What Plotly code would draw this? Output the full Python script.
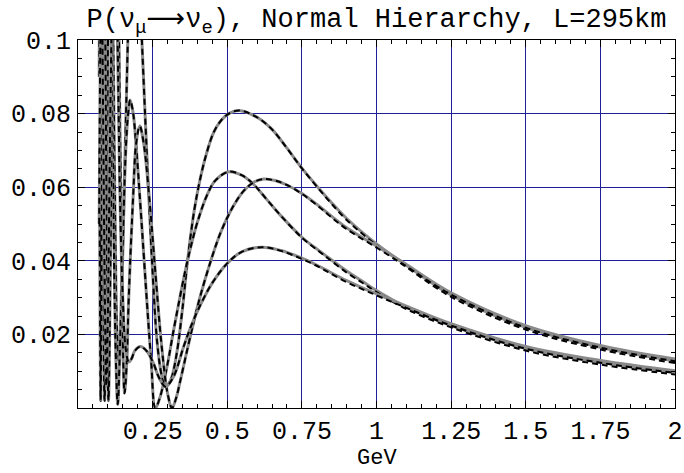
import plotly.graph_objects as go

# ---- data ----
# delta = -pi/2 (largest first maximum)
A_E = [0.071, 0.076, 0.080, 0.085, 0.0895, 0.094, 0.100, 0.108, 0.115, 0.123, 0.131, 0.138, 0.145,
       0.155, 0.167, 0.175, 0.187, 0.200, 0.215, 0.230, 0.248, 0.265, 0.280, 0.293, 0.310, 0.330,
       0.350, 0.367, 0.390, 0.410, 0.430, 0.454, 0.480, 0.510, 0.544, 0.600, 0.650, 0.700, 0.750,
       0.810, 0.845, 0.900, 1.000, 1.070, 1.100, 1.250, 1.500, 1.750, 2.000]
A_P = [0.120, 0.160, 0.130, 0.050, 0.020, 0.040, 0.100, 0.150, 0.120, 0.060, 0.020, 0.012, 0.025,
       0.060, 0.100, 0.125, 0.135, 0.125, 0.098, 0.070, 0.040, 0.018, 0.009, 0.0058, 0.0075, 0.0145,
       0.027, 0.040, 0.054, 0.0625, 0.069, 0.0748, 0.0782, 0.0802, 0.0808, 0.0790, 0.0757, 0.0706, 0.0652,
       0.0594, 0.0562, 0.0515, 0.0446, 0.0405, 0.0388, 0.0307, 0.0219, 0.0165, 0.0128]
A_P_approx = [0.120, 0.160, 0.130, 0.050, 0.020, 0.040, 0.100, 0.150, 0.120, 0.060, 0.020, 0.012, 0.025,
              0.060, 0.100, 0.125, 0.135, 0.125, 0.098, 0.070, 0.040, 0.018, 0.009, 0.0058, 0.0075, 0.0145,
              0.027, 0.040, 0.054, 0.0625, 0.069, 0.0748, 0.0782, 0.0802, 0.0808, 0.0790, 0.0757, 0.0706, 0.0651,
              0.0592, 0.0559, 0.0511, 0.0442, 0.0400, 0.0383, 0.0302, 0.0213, 0.0159, 0.0122]

# delta = pi (first maximum at lower energy)
B_E = [0.071, 0.076, 0.082, 0.089, 0.097, 0.106, 0.115, 0.125, 0.133, 0.140, 0.150, 0.160, 0.168,
       0.175, 0.185, 0.195, 0.210, 0.232, 0.245, 0.259, 0.275, 0.300, 0.320, 0.340, 0.360, 0.380,
       0.400, 0.432, 0.460, 0.505, 0.550, 0.588, 0.630, 0.678, 0.750, 0.810, 0.845, 0.900, 0.955,
       1.000, 1.100, 1.250, 1.500, 1.750, 2.000]
B_P = [0.090, 0.150, 0.060, 0.002, 0.070, 0.130, 0.080, 0.020, 0.001, 0.015, 0.045, 0.070, 0.080,
       0.0837, 0.080, 0.071, 0.054, 0.0275, 0.013, 0.000, 0.003, 0.012, 0.021, 0.0295, 0.0375, 0.0445,
       0.0505, 0.0578, 0.0618, 0.0642, 0.0632, 0.0608, 0.0569, 0.0524, 0.0464, 0.0426, 0.0405, 0.0372, 0.0343,
       0.0319, 0.0274, 0.0224, 0.0162, 0.0124, 0.0097]
B_P_approx = [0.090, 0.150, 0.060, 0.002, 0.070, 0.130, 0.080, 0.020, 0.001, 0.015, 0.045, 0.070, 0.080,
              0.0837, 0.080, 0.071, 0.054, 0.0275, 0.013, 0.000, 0.003, 0.012, 0.021, 0.0295, 0.0375, 0.0445,
              0.0505, 0.0578, 0.0618, 0.0642, 0.0632, 0.0608, 0.0569, 0.0524, 0.0463, 0.0424, 0.0402, 0.0368, 0.0339,
              0.0315, 0.0269, 0.0219, 0.0156, 0.0118, 0.0091]

# delta = 0 (first maximum at higher energy)
C_E = [0.072, 0.076, 0.080, 0.087, 0.095, 0.102, 0.110, 0.120, 0.130, 0.140, 0.148, 0.156, 0.163,
       0.170, 0.185, 0.195, 0.207, 0.220, 0.240, 0.260, 0.280, 0.300, 0.315, 0.328, 0.343, 0.365,
       0.388, 0.410, 0.443, 0.477, 0.520, 0.555, 0.590, 0.622, 0.660, 0.700, 0.750, 0.810, 0.845,
       0.900, 1.000, 1.070, 1.100, 1.250, 1.500, 1.750, 2.000]
C_P = [0.070, 0.002, 0.080, 0.140, 0.060, 0.002, 0.050, 0.120, 0.130, 0.080, 0.030, 0.004, 0.012,
       0.030, 0.058, 0.072, 0.0766, 0.072, 0.056, 0.036, 0.017, 0.004, 0.000, 0.0025, 0.0075, 0.0155,
       0.0235, 0.0305, 0.0395, 0.0475, 0.0548, 0.0590, 0.0614, 0.0622, 0.0618, 0.0606, 0.0583, 0.0547, 0.0524,
       0.0490, 0.0440, 0.0405, 0.0390, 0.0313, 0.0224, 0.0170, 0.0133]
C_P_approx = [0.070, 0.002, 0.080, 0.140, 0.060, 0.002, 0.050, 0.120, 0.130, 0.080, 0.030, 0.004, 0.012,
              0.030, 0.058, 0.072, 0.0766, 0.072, 0.056, 0.036, 0.017, 0.004, 0.000, 0.0025, 0.0075, 0.0155,
              0.0235, 0.0305, 0.0395, 0.0475, 0.0548, 0.0590, 0.0614, 0.0622, 0.0618, 0.0606, 0.0582, 0.0545, 0.0521,
              0.0486, 0.0436, 0.0400, 0.0385, 0.0308, 0.0218, 0.0164, 0.0127]

# delta = +pi/2 (smallest first maximum)
D_E = [0.071, 0.075, 0.079, 0.083, 0.090, 0.095, 0.100, 0.110, 0.120, 0.130, 0.140, 0.150, 0.160,
       0.170, 0.180, 0.190, 0.209, 0.230, 0.253, 0.270, 0.293, 0.320, 0.354, 0.380, 0.410, 0.450,
       0.500, 0.550, 0.616, 0.680, 0.750, 0.810, 0.845, 0.900, 0.955, 1.000, 1.100, 1.250, 1.500,
       1.750, 2.000]
D_P = [0.050, 0.100, 0.120, 0.090, 0.030, 0.006, 0.025, 0.090, 0.130, 0.110, 0.060, 0.030, 0.016,
       0.0125, 0.0135, 0.0155, 0.0167, 0.0155, 0.0121, 0.0085, 0.0058, 0.0085, 0.0167, 0.0225, 0.0280, 0.0340,
       0.0393, 0.0425, 0.0437, 0.0428, 0.0407, 0.0384, 0.0369, 0.0346, 0.0326, 0.0310, 0.0277, 0.0229, 0.0167,
       0.0129, 0.0101]
D_P_approx = [0.050, 0.100, 0.120, 0.090, 0.030, 0.006, 0.025, 0.090, 0.130, 0.110, 0.060, 0.030, 0.016,
              0.0125, 0.0135, 0.0155, 0.0167, 0.0155, 0.0121, 0.0085, 0.0058, 0.0085, 0.0167, 0.0225, 0.0280, 0.0340,
              0.0393, 0.0425, 0.0437, 0.0427, 0.0405, 0.0382, 0.0366, 0.0342, 0.0322, 0.0306, 0.0272, 0.0224, 0.0161,
              0.0123, 0.0095]

X_TICKS = [0.25, 0.5, 0.75, 1.0, 1.25, 1.5, 1.75, 2.0]
X_LABELS = ["0.25", "0.5", "0.75", "1", "1.25", "1.5", "1.75", "2"]
Y_TICKS = [0.02, 0.04, 0.06, 0.08, 0.1]
Y_LABELS = ["0.02", "0.04", "0.06", "0.08", "0.1"]

TITLE = ("P(ν<sub>μ</sub><span style=\"font-family:DejaVu Sans\">⟶</span>ν<sub>e</sub>), "
         "Normal Hierarchy, L=295km")
X_TITLE = "GeV"

FONT = "Liberation Mono, Courier New, monospace"
GRID = "#202096"
GRAY = "#8a8a8a"

fig = go.Figure()
series = [(A_E, A_P, A_P_approx), (B_E, B_P, B_P_approx), (C_E, C_P, C_P_approx), (D_E, D_P, D_P_approx)]
for e, p, pa in series:
    fig.add_trace(go.Scatter(x=e, y=p, mode="lines", showlegend=False, hoverinfo="skip",
                             line=dict(color=GRAY, width=3, shape="spline", smoothing=1.0)))
    fig.add_trace(go.Scatter(x=e, y=pa, mode="lines", showlegend=False, hoverinfo="skip",
                             line=dict(color="black", width=2, dash="6px,4px", shape="spline", smoothing=1.0)))

axis_common = dict(
    automargin=False,
    showline=True, linecolor="black", linewidth=1, mirror="ticks",
    ticks="inside", ticklen=7, tickwidth=1, tickcolor="black",
    showgrid=True, gridcolor=GRID, gridwidth=1, zeroline=False,
    tickfont=dict(family=FONT, size=25, color="black"),
)

fig.update_xaxes(range=[0, 2], tickmode="array", tickvals=X_TICKS, ticktext=X_LABELS,
                 minor=dict(tick0=0, dtick=0.05, ticks="inside", ticklen=4, tickcolor="black", showgrid=False),
                 **axis_common)
fig.update_yaxes(range=[0, 0.1], tickmode="array", tickvals=Y_TICKS, ticktext=Y_LABELS,
                 minor=dict(tick0=0, dtick=0.005, ticks="inside", ticklen=4, tickcolor="black", showgrid=False),
                 ticklabelstandoff=1,
                 **axis_common)

fig.add_annotation(text=X_TITLE, xref="paper", yref="paper", x=0.5, y=0,
                   xanchor="center", yanchor="bottom", yshift=-65, showarrow=False,
                   font=dict(family=FONT, size=22, color="black"))

fig.update_layout(
    template="none",
    width=684, height=473,
    margin=dict(l=78, r=9, t=40, b=65),
    paper_bgcolor="white", plot_bgcolor="white",
    title=dict(text=TITLE, font=dict(family=FONT, size=27, color="black"), automargin=False,
               x=0.5, xref="paper", xanchor="center", y=0.962, yref="container", yanchor="middle"),
)

fig.write_html("out.html", config={"displayModeBar": False},
               post_script="document.body.style.margin='0';document.body.style.padding='0';"
                           "document.body.style.overflow='hidden';")
